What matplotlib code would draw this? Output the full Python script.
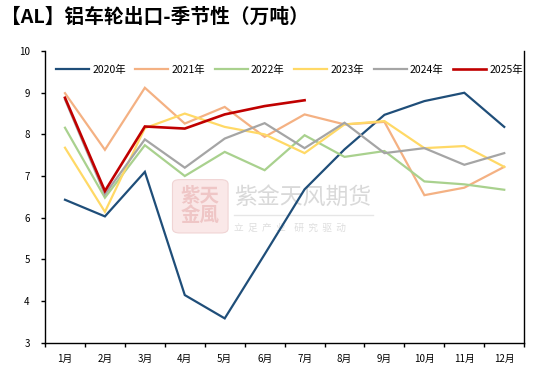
import matplotlib
matplotlib.use("Agg")
import matplotlib.pyplot as plt
from matplotlib.patches import FancyBboxPatch

plt.rcParams['font.family'] = ['Noto Sans CJK SC', 'DejaVu Sans']

# ---------------------------------------------------------------------
# Datos (万吨)
# ---------------------------------------------------------------------
meses = ["1月", "2月", "3月", "4月", "5月", "6月",
         "7月", "8月", "9月", "10月", "11月", "12月"]

v2020 = [6.43, 6.03, 7.10, 4.14, 3.58, 5.12, 6.68, 7.64, 8.47, 8.80, 9.00, 8.18]
v2021 = [8.99, 7.63, 9.12, 8.26, 8.66, 7.94, 8.48, 8.24, 8.30, 6.54, 6.72, 7.22]
v2022 = [8.16, 6.48, 7.74, 7.00, 7.58, 7.14, 7.98, 7.46, 7.60, 6.87, 6.80, 6.67]
v2023 = [7.68, 6.14, 8.15, 8.50, 8.18, 8.00, 7.55, 8.24, 8.32, 7.67, 7.72, 7.22]
v2024 = [8.84, 6.56, 7.88, 7.20, 7.90, 8.27, 7.67, 8.28, 7.55, 7.67, 7.27, 7.55]
v2025 = [8.88, 6.64, 8.19, 8.14, 8.48, 8.68, 8.82]

series = [("2020年", v2020, "#1F4E79", 1.6),
          ("2021年", v2021, "#F4B183", 1.6),
          ("2022年", v2022, "#A9D18E", 1.6),
          ("2023年", v2023, "#FFD966", 1.6),
          ("2024年", v2024, "#A5A5A5", 1.6),
          ("2025年", v2025, "#C00000", 1.9)]

fig = plt.figure(figsize=(5.36, 3.76), dpi=100)
ax = fig.add_axes([0.084, 0.089, 0.894, 0.775])

# Marca de agua (sello + nombre)
ax.add_patch(FancyBboxPatch((0.27, 0.38), 0.108, 0.175,
                            boxstyle="round,pad=0.004,rounding_size=0.015",
                            transform=ax.transAxes, facecolor="#fae8e8",
                            edgecolor="#f0d4d4", lw=0.8, zorder=0))
ax.text(0.324, 0.468, "紫天\n金風", transform=ax.transAxes, ha="center",
        va="center", fontsize=14, color="#efc6c6", fontweight="bold",
        linespacing=1.0, zorder=0)
ax.text(0.395, 0.50, "紫金天风期货", transform=ax.transAxes, ha="left",
        va="center", fontsize=16.5, color="#d9d9d9", zorder=0)
ax.plot([0.395, 0.685], [0.438, 0.438], transform=ax.transAxes,
        color="#e6e6e6", lw=1, zorder=0)
ax.text(0.395, 0.393, "立  足  产  业    研  究  驱  动", transform=ax.transAxes,
        ha="left", va="center", fontsize=7, color="#dedede", zorder=0)

x = list(range(len(meses)))
for nombre, vals, color, lw in series:
    ax.plot(x[:len(vals)], vals, color=color, lw=lw, label=nombre,
            solid_joinstyle="miter", zorder=3)

ax.set_xlim(-0.5, 11.5)
ax.set_ylim(3, 10)
ax.set_yticks(range(3, 11))
ax.tick_params(axis="y", direction="out", length=3, width=1,
               labelsize=7, colors="#000000", pad=8)
ax.set_xticks([i - 0.5 for i in range(13)])
ax.set_xticklabels([])
ax.set_xticks(x, minor=True)
ax.set_xticklabels(meses, minor=True)
ax.tick_params(axis="x", which="major", direction="out", length=3, width=1)
ax.tick_params(axis="x", which="minor", length=0, labelsize=7, pad=8)

ax.spines["top"].set_visible(False)
for s in ("left", "right", "bottom"):
    ax.spines[s].set_linewidth(1)
    ax.spines[s].set_color("#000000")

ax.legend(loc="upper center", bbox_to_anchor=(0.51, 0.985), ncol=6,
          frameon=False, fontsize=7.5, handlelength=3.2, handletextpad=0.3,
          columnspacing=0.9)

fig.text(0.002, 0.955, "【AL】铝车轮出口-季节性（万吨）", fontsize=14.2,
         fontweight="bold", ha="left", va="center")

fig.savefig("out.png", dpi=100)
